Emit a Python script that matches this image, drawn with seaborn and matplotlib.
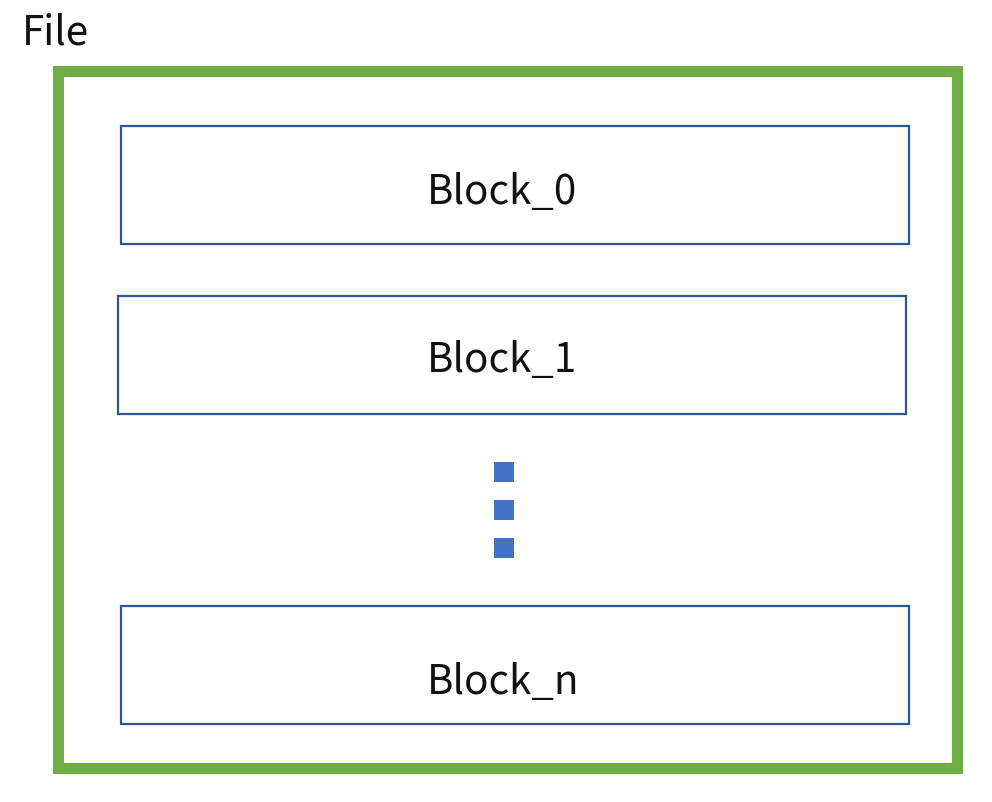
import matplotlib
matplotlib.use("Agg")
import numpy as np
import pandas as pd
import seaborn as sns
import matplotlib.pyplot as plt
from matplotlib.patches import Rectangle

# diagram content
container_label = "File"
block_labels = ["Block_0", "Block_1", "Block_n"]
block_left = [121, 118, 121]
block_top = [126, 296, 606]
block_width = 788
block_height = 118
label_x = [502, 502, 503]
label_y = [192, 360, 682]
dots_x = [504, 504, 504]
dots_y = [472, 510, 548]

sns.set_style("white")
plt.rcParams['font.family'] = ['Noto Sans CJK SC', 'DejaVu Sans']

fig = plt.figure(figsize=(9.92, 8.02), dpi=100)
ax = fig.add_axes([0, 0, 1, 1])

# outer file container
ax.add_patch(Rectangle((57.5, 70.5), 899, 697, fill=False,
                       edgecolor="#70AD47", linewidth=8))
ax.text(22, 33, container_label, fontsize=29, va='center', ha='left',
        color="#111111", fontweight='light')

for lbl, x, y, tx, ty in zip(block_labels, block_left, block_top, label_x, label_y):
    ax.add_patch(Rectangle((x, y), block_width, block_height, fill=False,
                           edgecolor="#2F5597", linewidth=1.6))
    ax.text(tx, ty, lbl, fontsize=29, ha='center', va='center',
            color="#111111", fontweight='light')

dots = pd.DataFrame({"x": dots_x, "y": dots_y})
sns.scatterplot(data=dots, x="x", y="y", marker='s', s=190, color="#4472C4",
                edgecolor="none", ax=ax, legend=False)
ax.set_xlim(0, 992)
ax.set_ylim(802, 0)
ax.axis('off')

fig.savefig("out.png", dpi=100)
